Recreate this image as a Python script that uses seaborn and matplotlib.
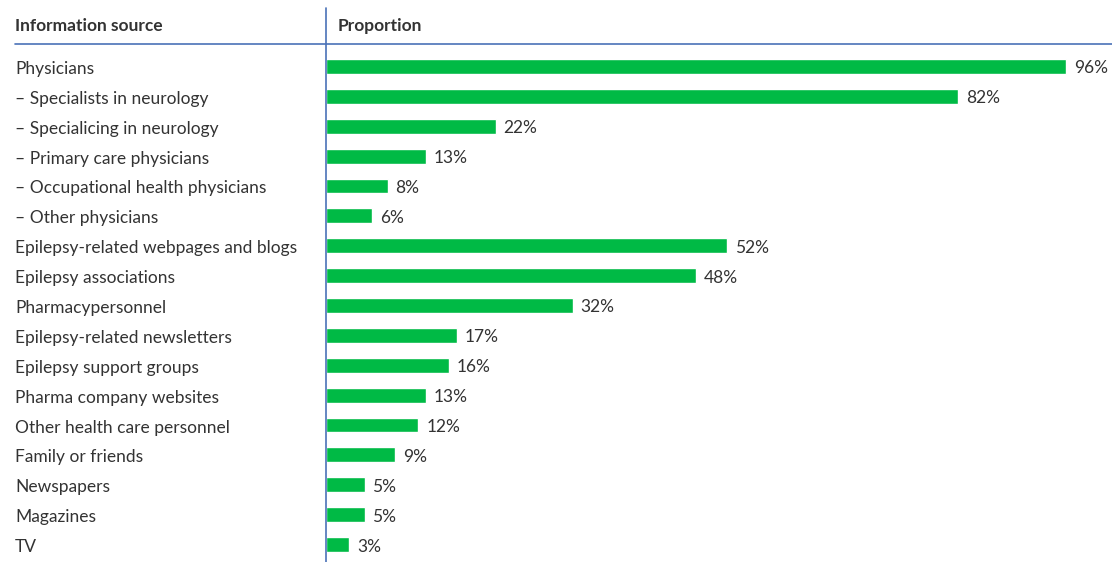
import matplotlib
matplotlib.use("Agg")
import matplotlib.pyplot as plt
import seaborn as sns
import pandas as pd

sources = [
    "Physicians",
    "– Specialists in neurology",
    "– Specialicing in neurology",
    "– Primary care physicians",
    "– Occupational health physicians",
    "– Other physicians",
    "Epilepsy-related webpages and blogs",
    "Epilepsy associations",
    "Pharmacypersonnel",
    "Epilepsy-related newsletters",
    "Epilepsy support groups",
    "Pharma company websites",
    "Other health care personnel",
    "Family or friends",
    "Newspapers",
    "Magazines",
    "TV",
]
proportions = [96, 82, 22, 13, 8, 6, 52, 48, 32, 17, 16, 13, 12, 9, 5, 5, 3]

col_source = "Information source"
col_prop = "Proportion"

df = pd.DataFrame({col_source: sources, col_prop: proportions})

sns.set_theme(style="white")
plt.rcParams["font.family"] = ["Lato", "DejaVu Sans"]

GREEN = "#00BA45"
BLUE = "#4A72B8"
TEXT = "#333333"
FS = 12.5

W, H = 1112, 562
fig = plt.figure(figsize=(W / 100, H / 100), dpi=100)

left_px, top_px = 326, 44
ax = fig.add_axes([left_px / W, 0, (W - left_px) / W, (H - top_px) / H])

sns.barplot(data=df, y=col_source, x=col_prop, orient="h", color=GREEN,
            width=0.5, saturation=1, ax=ax)

row_px = 29.875
ax.set_ylim(16 + 17.5 / row_px, -22.5 / row_px)
ax.set_xlim(0, (W - left_px) / 7.708)

for i, v in enumerate(proportions):
    ax.text(v + 1.0, i + 2 / row_px, f"{v}%", va="center", ha="left",
            fontsize=FS, color=TEXT)

ax.set_xlabel("")
ax.set_ylabel("")
ax.set_xticks([])
ax.set_yticks([])
for s in ax.spines.values():
    s.set_visible(False)

# row labels in the left column
for i, name in enumerate(sources):
    y = 1 - (69 + i * row_px) / H
    fig.text(15 / W, y, name, ha="left", va="center", fontsize=FS, color=TEXT)

# column headers
fig.text(15 / W, 1 - 26 / H, col_source, ha="left", va="center",
         fontsize=FS, fontweight="bold", color=TEXT)
fig.text(338 / W, 1 - 26 / H, col_prop, ha="left", va="center",
         fontsize=FS, fontweight="bold", color=TEXT)

# header rule and column divider
fig.add_artist(plt.Line2D([15 / W, 1], [1 - 44 / H, 1 - 44 / H], color=BLUE, lw=1.2))
fig.add_artist(plt.Line2D([left_px / W, left_px / W], [0, 1 - 8 / H], color=BLUE, lw=1.2))

fig.savefig("out.png", dpi=100)
